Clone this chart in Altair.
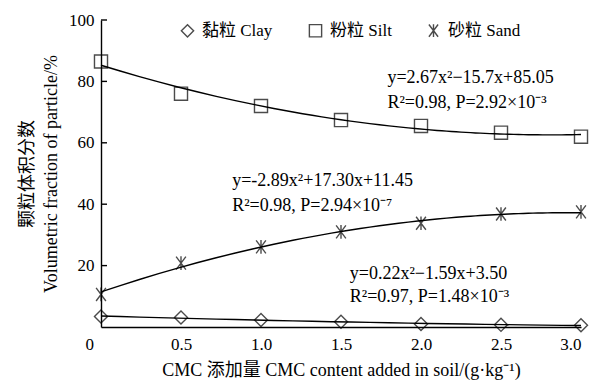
import altair as alt
import pandas as pd

x_vals = [0, 0.5, 1.0, 1.5, 2.0, 2.5, 3.0]
clay = [3.4, 3.1, 2.3, 1.7, 1.0, 0.7, 0.6]
silt = [86.5, 76.0, 72.0, 67.4, 65.5, 63.3, 62.0]
sand = [10.6, 20.8, 26.1, 31.0, 33.8, 36.8, 37.5]
series_names = ["黏粒 Clay", "粉粒 Silt", "砂粒 Sand"]
y_ticks = [20, 40, 60, 80, 100]
x_ticks = [0, 0.5, 1.0, 1.5, 2.0, 2.5, 3.0]

ann_text = [
    "y=2.67x²−15.7x+85.05", "R²=0.98, P=2.92×10⁻³",
    "y=-2.89x²+17.30x+11.45", "R²=0.98, P=2.94×10⁻⁷",
    "y=0.22x²−1.59x+3.50", "R²=0.97, P=1.48×10⁻³",
]
ann_x = [1.79, 1.79, 0.82, 0.82, 1.555, 1.555]
ann_y = [81.0, 73.0, 47.6, 39.4, 17.4, 9.9]

FONT = "Liberation Serif, Noto Sans CJK SC"
ASTER = "M-0.75,-1L0.75,1M-0.75,1L0.75,-1M0,-1.05L0,1.05"

rows = []
for name, vals in zip(series_names, [clay, silt, sand]):
    for xv, yv in zip(x_vals, vals):
        rows.append({"x": xv, "y": yv, "s": name})
df = pd.DataFrame(rows)
ann = pd.DataFrame({"t": ann_text, "x": ann_x, "y": ann_y})
ticks = pd.DataFrame({"v": y_ticks})

xs = alt.Scale(domain=[0, 3], nice=False)
ys = alt.Scale(domain=[0, 100], nice=False)

xaxis = alt.Axis(
    values=x_ticks, title="CMC 添加量 CMC content added in soil/(g·kg⁻¹)",
    labelExpr="datum.value == 0 ? '0' : format(datum.value, '.1f')",
    ticks=False, grid=False, labelPadding=9, titlePadding=9,
    labelOffset={"condition": {"test": "datum.value == 0", "value": -16}, "value": 0},
)
yaxis = alt.Axis(
    values=y_ticks, title=["颗粒体积分数", "Volumetric fraction of particle/%"],
    ticks=False, grid=False, labelPadding=7, titlePadding=8, titleLineHeight=24,
)

base = alt.Chart(df)

lines = base.transform_regression(
    "x", "y", groupby=["s"], method="poly", order=2, extent=[0, 3]
).mark_line(color="black", strokeWidth=1.4).encode(
    x=alt.X("x:Q", scale=xs, axis=xaxis),
    y=alt.Y("y:Q", scale=ys, axis=yaxis),
    detail="s:N",
)

points = base.mark_point(filled=False, color="black", strokeWidth=1.4, size=170).encode(
    x=alt.X("x:Q", scale=xs),
    y=alt.Y("y:Q", scale=ys),
    shape=alt.Shape(
        "s:N",
        scale=alt.Scale(domain=series_names, range=["diamond", "square", ASTER]),
        legend=alt.Legend(
            title=None, orient="none", direction="horizontal",
            legendX=78, legendY=2, columnPadding=33, symbolStrokeColor="black",
            symbolFillColor="transparent", symbolStrokeWidth=1.4,
            symbolSize=150, labelFontSize=17, labelFont=FONT, labelOffset=6,
            labelColor="black",
        ),
    ),
)

tick_marks = alt.Chart(ticks).mark_rule(color="black", strokeWidth=1.4).encode(
    y=alt.Y("v:Q", scale=ys), x=alt.value(0), x2=alt.value(6)
)

labels = alt.Chart(ann).mark_text(
    align="left", baseline="middle", fontSize=18, font=FONT, color="black"
).encode(x=alt.X("x:Q", scale=xs), y=alt.Y("y:Q", scale=ys), text="t:N")

chart = alt.layer(lines, points, tick_marks, labels).properties(
    width=480, height=307, autosize="none", background="white",
    padding={"left": 93, "top": 12, "right": 16, "bottom": 56},
).configure_view(stroke=None).configure_axis(
    domainColor="black", domainWidth=1.4, labelColor="black", titleColor="black",
    labelFont=FONT, titleFont=FONT, labelFontSize=17, titleFontSize=18,
    titleFontWeight="normal",
)

chart.save("out.html", embed_options={"renderer": "svg", "actions": False})
